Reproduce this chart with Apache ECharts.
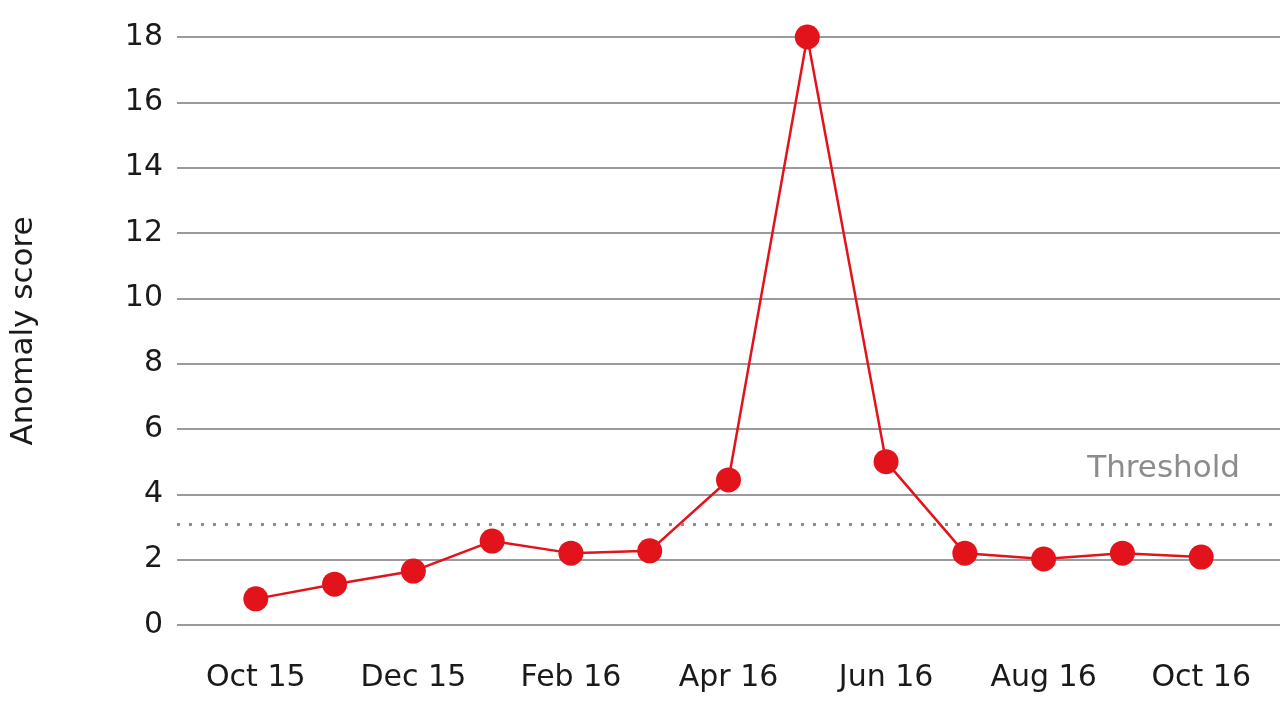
<!DOCTYPE html>
<html><head><meta charset="utf-8">
<script src="https://cdn.jsdelivr.net/npm/echarts@6/dist/echarts.min.js"></script>
<style>html,body{margin:0;padding:0;background:#fff}#c{width:1280px;height:720px}</style>
</head><body><div id="c"></div>
<script>
const categories = ["", "Oct 15","Nov 15","Dec 15","Jan 16","Feb 16","Mar 16","Apr 16","May 16","Jun 16","Jul 16","Aug 16","Sep 16","Oct 16",""];
const scores = [null, 0.8,1.25,1.65,2.57,2.2,2.27,4.44,18,5.0,2.2,2.02,2.2,2.08, null];
const threshold = 3.09;
const F = 'DejaVu Sans';
const chart = echarts.init(document.getElementById('c'));
chart.setOption({
  animation:false,
  grid:{left:175,right:-14,top:37,bottom:95,containLabel:false},
  xAxis:{type:'category',data:categories,boundaryGap:false,
    axisLine:{show:false},axisTick:{show:false},
    axisLabel:{interval:(i)=>i%2===1,margin:38,fontSize:30,color:'#1a1a1a',fontFamily:F}},
  yAxis:{type:'value',min:0,max:18,interval:2,
    name:'Anomaly score',nameLocation:'middle',nameGap:138,nameRotate:90,
    nameTextStyle:{fontSize:31,color:'#1a1a1a',fontFamily:F},
    axisLabel:{fontSize:30,color:'#1a1a1a',margin:14,fontFamily:F},
    splitLine:{lineStyle:{color:'#9a9a9a',width:2}}},
  series:[{type:'line',data:scores,symbol:'circle',symbolSize:25,
    itemStyle:{color:'#e3131b'},lineStyle:{color:'#e3131b',width:2.5},
    markLine:{silent:true,symbol:'none',data:[{yAxis:threshold}],
      lineStyle:{type:[3,9],color:'#8c8c8c',width:3},
      label:{position:'insideEndTop',formatter:'Threshold',fontSize:31,color:'#8c8c8c',distance:[40,40],fontFamily:F}}}]
});
</script></body></html>
